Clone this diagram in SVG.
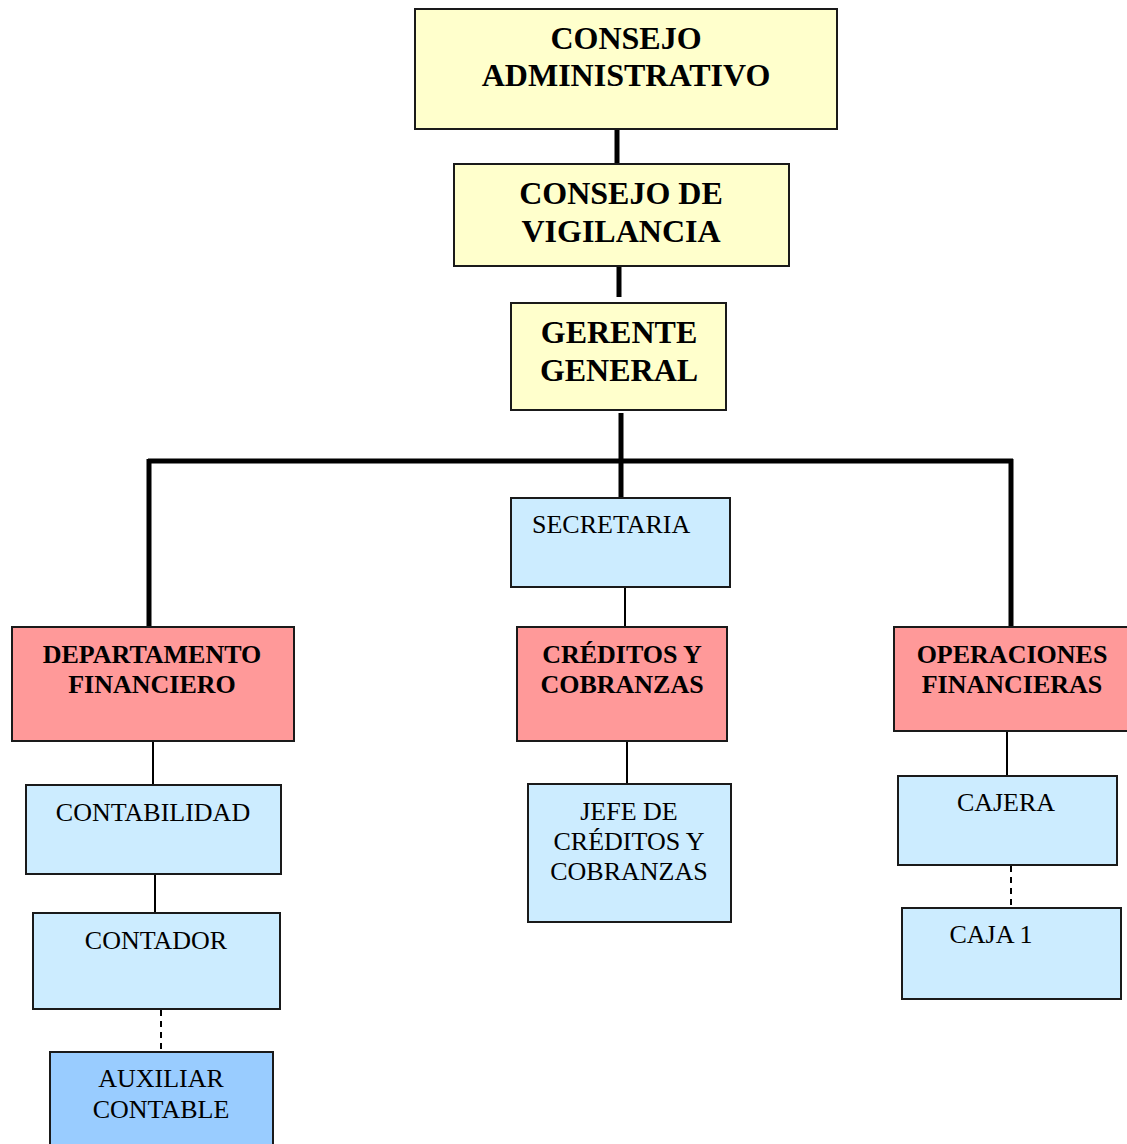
<svg xmlns="http://www.w3.org/2000/svg" width="1127" height="1144" viewBox="0 0 1127 1144">
<style>
.box{stroke:#1a1a1a;stroke-width:2}
.y{fill:#FFFFCC}.b{fill:#CCECFF}.p{fill:#FF9999}.d{fill:#99CCFF}
text{font-family:'Liberation Serif','Times New Roman',serif;fill:#000;text-anchor:middle}
.t1{font-size:32px;font-weight:bold}
.t2{font-size:26px;font-weight:bold}
.t3{font-size:26px}
.thick{stroke:#000;stroke-width:5;fill:none}
.thin{stroke:#000;stroke-width:2;fill:none}
.dash{stroke:#000;stroke-width:2;fill:none;stroke-dasharray:6 5}
</style>
<rect width="1127" height="1144" fill="#fff"/>
<g id="connectors">
<line class="thick" x1="617" y1="129" x2="617" y2="164"/>
<line class="thick" x1="619" y1="263" x2="619" y2="297"/>
<line class="thick" x1="621" y1="413" x2="621" y2="498"/>
<line class="thick" x1="148" y1="461" x2="1013" y2="461"/>
<line class="thick" x1="149" y1="459" x2="149" y2="627"/>
<line class="thick" x1="1011" y1="459" x2="1011" y2="627"/>
<line class="thin" x1="625" y1="587" x2="625" y2="627"/>
<line class="thin" x1="627" y1="741" x2="627" y2="784"/>
<line class="thin" x1="153" y1="741" x2="153" y2="785"/>
<line class="thin" x1="155" y1="874" x2="155" y2="913"/>
<line class="dash" x1="161" y1="1010" x2="161" y2="1052"/>
<line class="thin" x1="1007" y1="731" x2="1007" y2="776"/>
<line class="dash" x1="1011" y1="866" x2="1011" y2="908"/>
</g>
<g id="consejo-administrativo">
<rect class="box y" x="415" y="9" width="422" height="120"/>
<text class="t1" x="626" y="49">CONSEJO</text>
<text class="t1" x="626" y="86">ADMINISTRATIVO</text>
</g>
<g id="consejo-vigilancia">
<rect class="box y" x="454" y="164" width="335" height="102"/>
<text class="t1" x="621" y="204">CONSEJO DE</text>
<text class="t1" x="621" y="242">VIGILANCIA</text>
</g>
<g id="gerente-general">
<rect class="box y" x="511" y="303" width="215" height="107"/>
<text class="t1" x="619" y="343">GERENTE</text>
<text class="t1" x="619" y="381">GENERAL</text>
</g>
<g id="secretaria">
<rect class="box b" x="511" y="498" width="219" height="89"/>
<text class="t3" x="532" y="533" style="text-anchor:start">SECRETARIA</text>
</g>
<g id="departamento-financiero">
<rect class="box p" x="12" y="627" width="282" height="114"/>
<text class="t2" x="152" y="663">DEPARTAMENTO</text>
<text class="t2" x="152" y="693">FINANCIERO</text>
</g>
<g id="creditos-cobranzas">
<rect class="box p" x="517" y="627" width="210" height="114"/>
<text class="t2" x="622" y="663">CRÉDITOS Y</text>
<text class="t2" x="622" y="693">COBRANZAS</text>
</g>
<g id="operaciones-financieras">
<rect class="box p" x="894" y="627" width="240" height="104"/>
<text class="t2" x="1012" y="663">OPERACIONES</text>
<text class="t2" x="1012" y="693">FINANCIERAS</text>
</g>
<g id="contabilidad">
<rect class="box b" x="26" y="785" width="255" height="89"/>
<text class="t3" x="153" y="821">CONTABILIDAD</text>
</g>
<g id="contador">
<rect class="box b" x="33" y="913" width="247" height="96"/>
<text class="t3" x="156" y="949">CONTADOR</text>
</g>
<g id="auxiliar-contable">
<rect class="box d" x="50" y="1052" width="223" height="100"/>
<text class="t3" x="161" y="1087">AUXILIAR</text>
<text class="t3" x="161" y="1118">CONTABLE</text>
</g>
<g id="jefe-creditos">
<rect class="box b" x="528" y="784" width="203" height="138"/>
<text class="t3" x="629" y="820">JEFE DE</text>
<text class="t3" x="629" y="850">CRÉDITOS Y</text>
<text class="t3" x="629" y="880">COBRANZAS</text>
</g>
<g id="cajera">
<rect class="box b" x="898" y="776" width="219" height="89"/>
<text class="t3" x="1006" y="811">CAJERA</text>
</g>
<g id="caja-1">
<rect class="box b" x="902" y="908" width="219" height="91"/>
<text class="t3" x="991" y="943">CAJA 1</text>
</g>
</svg>
